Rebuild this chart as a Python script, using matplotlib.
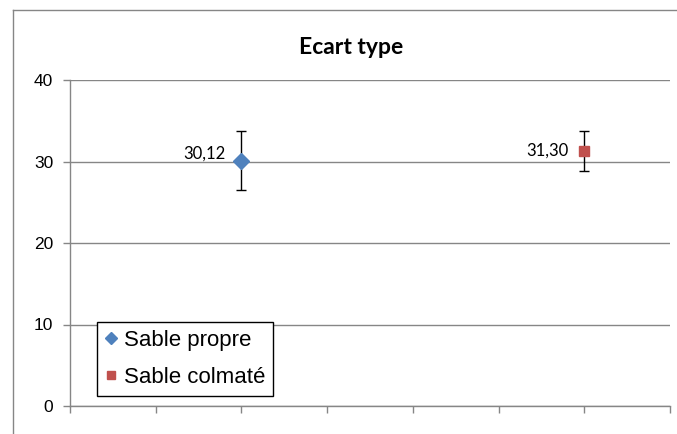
import matplotlib
matplotlib.use("Agg")
import matplotlib.pyplot as plt
from matplotlib.lines import Line2D

# Data
series_names = ["Sable propre", "Sable colmaté"]
x_positions = [2, 6]
means = [30.12, 31.30]
errors = [3.6, 2.5]
labels = ["30,12", "31,30"]
colors = ["#4F81BD", "#C0504D"]
markers = ["D", "s"]
y_ticks = [0, 10, 20, 30, 40]

W, H = 677, 434
fig = plt.figure(figsize=(W / 100, H / 100), dpi=100)
ax = fig.add_axes([70 / W, 28 / H, 600 / W, 326 / H])

grey = "#868686"
ax.set_xlim(0, 7)
ax.set_ylim(0, 40)
ax.set_yticks(y_ticks)
ax.set_xticks(range(0, 8))
ax.set_xticklabels([])
ax.yaxis.grid(True, color=grey, linewidth=1)
ax.set_axisbelow(True)
for s in ["top", "right"]:
    ax.spines[s].set_visible(False)
for s in ["left", "bottom"]:
    ax.spines[s].set_color(grey)
    ax.spines[s].set_linewidth(1)
ax.tick_params(axis="y", length=5, width=1, color=grey, pad=7,
               labelsize=12.5, labelfontfamily="Liberation Sans")
ax.tick_params(axis="x", length=5, width=1, color=grey)

label_offsets = [(-16, 7), (-16, 0)]
msizes = [8, 7.5]
for i in range(len(series_names)):
    ax.errorbar([x_positions[i]], [means[i]], yerr=[errors[i]], fmt="none",
                ecolor="black", elinewidth=1, capsize=3.5, capthick=1, zorder=3)
    ax.plot([x_positions[i]], [means[i]], linestyle="none", marker=markers[i],
            markersize=msizes[i], color=colors[i], label=series_names[i], zorder=4)
    ax.annotate(labels[i], (x_positions[i], means[i]), xytext=label_offsets[i],
                textcoords="offset pixels", ha="right", va="center",
                fontsize=12, family="Lato")

ax.set_title("Ecart type", fontsize=16.5, fontweight="bold", family="Lato", pad=19,
             x=(351 - 70) / 600)

leg = ax.legend(loc="lower left", bbox_to_anchor=((97 - 70) / 600, (406 - 396) / 326),
                frameon=True, fancybox=False, edgecolor="black", framealpha=1,
                prop={"family": "Liberation Sans", "size": 16},
                handlelength=0.6, handletextpad=0.25, borderpad=0.35,
                labelspacing=0.75, markerscale=0.75, borderaxespad=0)
leg.get_frame().set_linewidth(1)

# Chart frame (cropped on right and bottom)
fig.add_artist(Line2D([12.5 / W, 12.5 / W], [0, 1 - 10 / H], color=grey, linewidth=1,
                      transform=fig.transFigure))
fig.add_artist(Line2D([12.5 / W, 1], [1 - 10 / H, 1 - 10 / H], color=grey, linewidth=1,
                      transform=fig.transFigure))

fig.savefig("out.png", dpi=100)
